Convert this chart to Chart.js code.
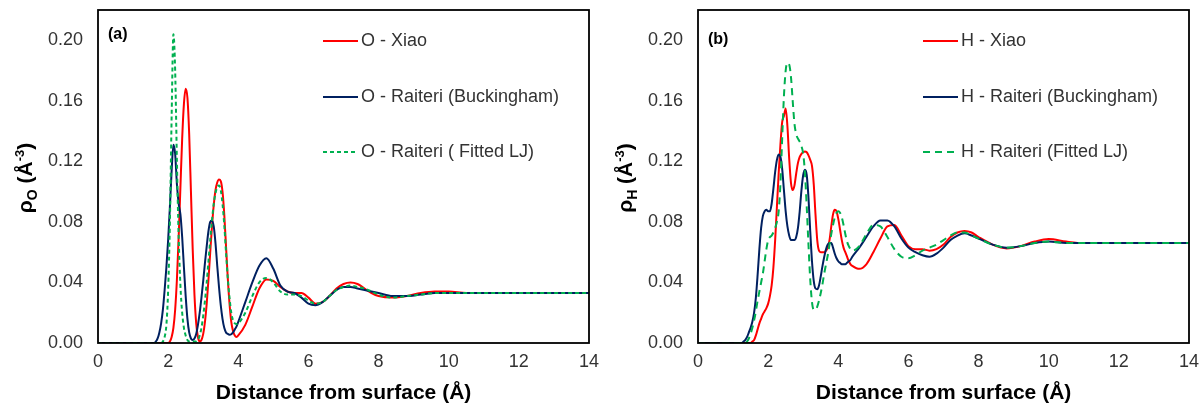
<!DOCTYPE html>
<html>
<head>
<meta charset="utf-8">
<script src="https://cdn.jsdelivr.net/npm/chart.js@4.4.1/dist/chart.umd.min.js"></script>
<style>
  html, body { margin: 0; padding: 0; background: #fff; }
  #wrap { display: flex; width: 1200px; height: 411px; }
  canvas { display: block; }
</style>
</head>
<body>
<div id="wrap">
  <canvas id="chartO" width="600" height="411"></canvas>
  <canvas id="chartH" width="600" height="411"></canvas>
</div>
<script>
// axis ticks
const xTicks = [0, 2, 4, 6, 8, 10, 12, 14];
const yTicks = [0, 0.04, 0.08, 0.12, 0.16, 0.2];

// panel (a): oxygen density, distance grid (Å)
const distA = [0, 0.5, 1.0, 1.5,
  1.6, 1.65, 1.7, 1.75, 1.8, 1.85, 1.9, 1.95, 2.0, 2.05,
  2.1, 2.15, 2.2, 2.25, 2.3, 2.35, 2.4, 2.45, 2.5, 2.55,
  2.6, 2.65, 2.7, 2.75, 2.8, 2.85, 2.9, 2.95, 3.0, 3.05,
  3.1, 3.15, 3.2, 3.25, 3.3, 3.35, 3.4, 3.45, 3.5, 3.55,
  3.6, 3.65, 3.7, 3.75, 3.8, 3.85, 3.9, 3.95, 4.0,
  4.2, 4.4, 4.6, 4.8, 5.0, 5.2, 5.4, 5.6, 5.8, 6.0,
  6.2, 6.4, 6.6, 6.8, 7.0, 7.2, 7.4, 7.6, 7.8, 8.0,
  8.4, 8.8, 9.2, 9.6, 10.0, 10.5, 11, 12, 13, 14];

const oXiao = [0, 0, 0, 0,
  0, 0, 0, 0, 0, 0, 0, 0, 0, 0.001,
  0.004, 0.010, 0.022, 0.042, 0.070, 0.103, 0.135, 0.158, 0.168, 0.162,
  0.138, 0.100, 0.062, 0.032, 0.013, 0.004, 0.001, 0.002, 0.006, 0.014,
  0.026, 0.042, 0.060, 0.077, 0.091, 0.101, 0.106, 0.108, 0.107, 0.100,
  0.085, 0.064, 0.043, 0.026, 0.014, 0.008, 0.005, 0.004, 0.005,
  0.012, 0.024, 0.036, 0.042, 0.041, 0.037, 0.034, 0.033, 0.033, 0.030,
  0.026, 0.027, 0.031, 0.036, 0.039, 0.040, 0.039, 0.036, 0.033, 0.031,
  0.030, 0.031, 0.033, 0.034, 0.034, 0.033, 0.033, 0.033, 0.033, 0.033];

const oBuck = [0, 0, 0, 0,
  0, 0.001, 0.003, 0.007, 0.013, 0.022, 0.035, 0.050, 0.068, 0.090,
  0.114, 0.131, 0.125, 0.105, 0.092, 0.085, 0.070, 0.050, 0.031, 0.016,
  0.007, 0.003, 0.002, 0.003, 0.006, 0.012, 0.020, 0.030, 0.041, 0.053,
  0.064, 0.074, 0.080, 0.081, 0.077, 0.066, 0.051, 0.037, 0.025, 0.016,
  0.010, 0.007, 0.006, 0.0055, 0.0058, 0.007, 0.009, 0.011, 0.014,
  0.027, 0.040, 0.051, 0.056, 0.049, 0.038, 0.034, 0.033, 0.030, 0.026,
  0.025, 0.027, 0.031, 0.035, 0.037, 0.037, 0.036, 0.035, 0.034, 0.033,
  0.031, 0.031, 0.032, 0.033, 0.033, 0.033, 0.033, 0.033, 0.033, 0.033];

const oFitLJ = [0, 0, 0, 0,
  0, 0, 0, 0, 0, 0.001, 0.004, 0.012, 0.035, 0.080,
  0.150, 0.204, 0.180, 0.120, 0.070, 0.038, 0.020, 0.010, 0.005, 0.002,
  0.001, 0.001, 0.001, 0.001, 0.001, 0.002, 0.005, 0.010, 0.018, 0.028,
  0.040, 0.054, 0.068, 0.081, 0.092, 0.099, 0.103, 0.104, 0.101, 0.092,
  0.078, 0.060, 0.043, 0.030, 0.020, 0.015, 0.013, 0.0125, 0.013,
  0.020, 0.031, 0.040, 0.043, 0.040, 0.034, 0.032, 0.032, 0.031, 0.028,
  0.026, 0.027, 0.031, 0.035, 0.037, 0.038, 0.037, 0.036, 0.034, 0.032,
  0.030, 0.031, 0.032, 0.033, 0.033, 0.033, 0.033, 0.033, 0.033, 0.033];

// panel (b): hydrogen density, distance grid (Å)
const distB = [0, 0.5, 1.0,
  1.2, 1.25, 1.3, 1.35, 1.4, 1.45, 1.5, 1.55, 1.6, 1.65,
  1.7, 1.75, 1.8, 1.85, 1.9, 1.95, 2.0, 2.05, 2.1, 2.15,
  2.2, 2.25, 2.3, 2.35, 2.4, 2.45, 2.5, 2.55, 2.6, 2.65,
  2.7, 2.75, 2.8, 2.85, 2.9, 2.95, 3.0, 3.05, 3.1, 3.15,
  3.2, 3.25, 3.3, 3.35, 3.4, 3.45, 3.5, 3.55, 3.6, 3.65,
  3.7, 3.75, 3.8, 3.85, 3.9, 3.95, 4.0, 4.05, 4.1, 4.15,
  4.2, 4.25, 4.3, 4.35, 4.4,
  4.6, 4.8, 5.0, 5.2, 5.4, 5.6, 5.8, 6.0, 6.2, 6.4,
  6.6, 6.8, 7.0, 7.2, 7.4, 7.6, 7.8, 8.0,
  8.4, 8.8, 9.2, 9.6, 10.0, 10.5, 11, 12, 13, 14];

const hXiao = [0, 0, 0,
  0, 0, 0, 0, 0, 0, 0, 0.001, 0.002, 0.005,
  0.009, 0.013, 0.016, 0.019, 0.021, 0.023, 0.026, 0.031, 0.038, 0.050,
  0.068, 0.090, 0.112, 0.131, 0.146, 0.150, 0.155, 0.143, 0.122, 0.106,
  0.101, 0.104, 0.112, 0.119, 0.123, 0.125, 0.126, 0.1265, 0.126, 0.124,
  0.121, 0.117, 0.105, 0.085, 0.068, 0.061, 0.060, 0.060, 0.060, 0.061,
  0.063, 0.068, 0.077, 0.085, 0.088, 0.087, 0.082, 0.075, 0.068, 0.063,
  0.060, 0.057, 0.054, 0.052, 0.051,
  0.049, 0.052, 0.060, 0.069, 0.077, 0.078, 0.071, 0.064, 0.062, 0.062,
  0.061, 0.062, 0.065, 0.070, 0.073, 0.074, 0.073, 0.070,
  0.065, 0.0625, 0.064, 0.067, 0.0687, 0.067, 0.066, 0.066, 0.066, 0.066];

const hBuck = [0, 0, 0,
  0, 0, 0.001, 0.002, 0.004, 0.007, 0.010, 0.014, 0.020, 0.030,
  0.045, 0.062, 0.076, 0.084, 0.087, 0.088, 0.087, 0.087, 0.092, 0.102,
  0.113, 0.121, 0.1245, 0.123, 0.115, 0.101, 0.087, 0.077, 0.071, 0.068,
  0.068, 0.068, 0.070, 0.076, 0.087, 0.101, 0.111, 0.1145, 0.111, 0.096,
  0.074, 0.054, 0.041, 0.036, 0.0355, 0.038, 0.044, 0.051, 0.057, 0.062,
  0.065, 0.066, 0.066, 0.063, 0.059, 0.056, 0.054, 0.053, 0.052, 0.052,
  0.052, 0.053, 0.054, 0.055, 0.057,
  0.063, 0.070, 0.077, 0.081, 0.081, 0.077, 0.069, 0.063, 0.060, 0.058,
  0.057, 0.059, 0.063, 0.068, 0.071, 0.0725, 0.071, 0.069,
  0.065, 0.063, 0.064, 0.066, 0.067, 0.066, 0.066, 0.066, 0.066, 0.066];

const hFitLJ = [0, 0, 0,
  0, 0, 0, 0, 0.001, 0.003, 0.006, 0.010, 0.015, 0.021,
  0.028, 0.034, 0.040, 0.046, 0.054, 0.062, 0.068, 0.070, 0.071, 0.073,
  0.076, 0.080, 0.087, 0.105, 0.135, 0.163, 0.180, 0.185, 0.184, 0.176,
  0.160, 0.145, 0.138, 0.135, 0.133, 0.130, 0.125, 0.112, 0.090, 0.065,
  0.042, 0.027, 0.022, 0.022, 0.024, 0.028, 0.033, 0.039, 0.046, 0.052,
  0.058, 0.065, 0.072, 0.078, 0.083, 0.086, 0.087, 0.086, 0.083, 0.078,
  0.072, 0.067, 0.064, 0.062, 0.061,
  0.064, 0.072, 0.078, 0.077, 0.070, 0.062, 0.057, 0.056, 0.058, 0.061,
  0.063, 0.065, 0.068, 0.071, 0.073, 0.073, 0.071, 0.069,
  0.065, 0.063, 0.064, 0.066, 0.067, 0.066, 0.066, 0.066, 0.066, 0.066];

const FONT = "'Liberation Sans', Arial, sans-serif";
const TEXT = "#333333";

function toPoints(xs, ys) {
  if (xs.length !== ys.length) console.error("length mismatch", xs.length, ys.length);
  return xs.map((x, i) => ({ x: x, y: ys[i] }));
}

function drawYTitle(ctx, sub, cx, cy) {
  const parts = [
    { t: "\u03C1", size: 21, dy: 0 },
    { t: sub, size: 14, dy: 5 },
    { t: " (\u00C5", size: 21, dy: 0 },
    { t: "-3", size: 13, dy: -8 },
    { t: ")", size: 21, dy: 0 },
  ];
  ctx.save();
  ctx.translate(cx, cy);
  ctx.rotate(-Math.PI / 2);
  ctx.fillStyle = "#000";
  ctx.textBaseline = "alphabetic";
  let total = 0;
  parts.forEach((p) => {
    ctx.font = "bold " + p.size + "px " + FONT;
    p.w = ctx.measureText(p.t).width;
    total += p.w;
  });
  let x = -total / 2;
  parts.forEach((p) => {
    ctx.font = "bold " + p.size + "px " + FONT;
    ctx.fillText(p.t, x, 7 + p.dy);
    x += p.w;
  });
  ctx.restore();
}

// frame, panel letter, y title and in-plot legend
const decorPlugin = {
  id: "decor",
  afterDatasetsDraw(chart, args, opts) {
    const ctx = chart.ctx;
    const a = chart.chartArea;
    ctx.save();
    ctx.strokeStyle = "#000";
    ctx.lineWidth = 1.8;
    ctx.strokeRect(a.left, a.top, a.right - a.left, a.bottom - a.top);

    ctx.fillStyle = "#000";
    ctx.font = "bold 16px " + FONT;
    ctx.textBaseline = "middle";
    ctx.textAlign = "left";
    ctx.fillText(opts.panel, 108, opts.panelY);

    ctx.font = "18px " + FONT;
    chart.data.datasets.forEach((ds, i) => {
      const y = opts.legendRows[i];
      ctx.beginPath();
      ctx.strokeStyle = ds.borderColor;
      ctx.lineWidth = ds.borderWidth;
      ctx.setLineDash(ds.borderDash || []);
      ctx.moveTo(323, y);
      ctx.lineTo(358, y);
      ctx.stroke();
      ctx.setLineDash([]);
      ctx.fillStyle = TEXT;
      ctx.fillText(ds.label, 361, y);
    });
    ctx.restore();
    drawYTitle(ctx, opts.sub, 25, 178);
  },
};

function makeChart(id, xs, series, labels, dash, decor) {
  const colors = ["#FF0000", "#002060", "#00B050"];
  const datasets = series.map((ys, i) => ({
    label: labels[i],
    data: toPoints(xs, ys),
    borderColor: colors[i],
    borderWidth: 2,
    borderDash: i === 2 ? dash : [],
    pointRadius: 0,
    fill: false,
    cubicInterpolationMode: "monotone",
    order: 3 - i,
  }));

  new Chart(document.getElementById(id).getContext("2d"), {
    type: "line",
    data: { datasets: datasets },
    plugins: [decorPlugin],
    options: {
      responsive: false,
      animation: false,
      devicePixelRatio: 1,
      layout: { padding: { top: 10, right: 11, left: 0, bottom: 0 } },
      plugins: {
        legend: { display: false },
        tooltip: { enabled: false },
        decor: decor,
      },
      scales: {
        x: {
          type: "linear",
          min: 0,
          max: 14,
          afterBuildTicks: (s) => { s.ticks = xTicks.map((v) => ({ value: v })); },
          afterFit: (s) => { s.height = 68; s.paddingLeft = 0; s.paddingRight = 0; },
          grid: { display: false, drawTicks: false },
          border: { display: false },
          ticks: { padding: 8, maxRotation: 0, color: TEXT, font: { family: FONT, size: 18 } },
          title: {
            display: true,
            text: "Distance from surface (\u00C5)",
            color: "#000",
            font: { family: FONT, size: 21, weight: "bold" },
            padding: { top: 0, bottom: 5 },
          },
        },
        y: {
          type: "linear",
          min: 0,
          max: 0.22,
          afterBuildTicks: (s) => { s.ticks = yTicks.map((v) => ({ value: v })); },
          afterFit: (s) => { s.width = 98; s.paddingTop = 0; s.paddingBottom = 0; },
          grid: { display: false, drawTicks: false },
          border: { display: false },
          ticks: {
            padding: 15,
            color: TEXT,
            font: { family: FONT, size: 18 },
            callback: (v) => Number(v).toFixed(2),
          },
        },
      },
    },
  });
}

window.onload = function () {
  makeChart("chartO", distA, [oXiao, oBuck, oFitLJ],
    ["O - Xiao", "O - Raiteri (Buckingham)", "O - Raiteri ( Fitted LJ)"],
    [4, 3],
    { panel: "(a)", panelY: 35, sub: "O", legendRows: [41, 97, 152] });

  makeChart("chartH", distB, [hXiao, hBuck, hFitLJ],
    ["H - Xiao", "H - Raiteri (Buckingham)", "H - Raiteri (Fitted LJ)"],
    [7, 5],
    { panel: "(b)", panelY: 40, sub: "H", legendRows: [41, 97, 152] });
};
</script>
</body>
</html>
